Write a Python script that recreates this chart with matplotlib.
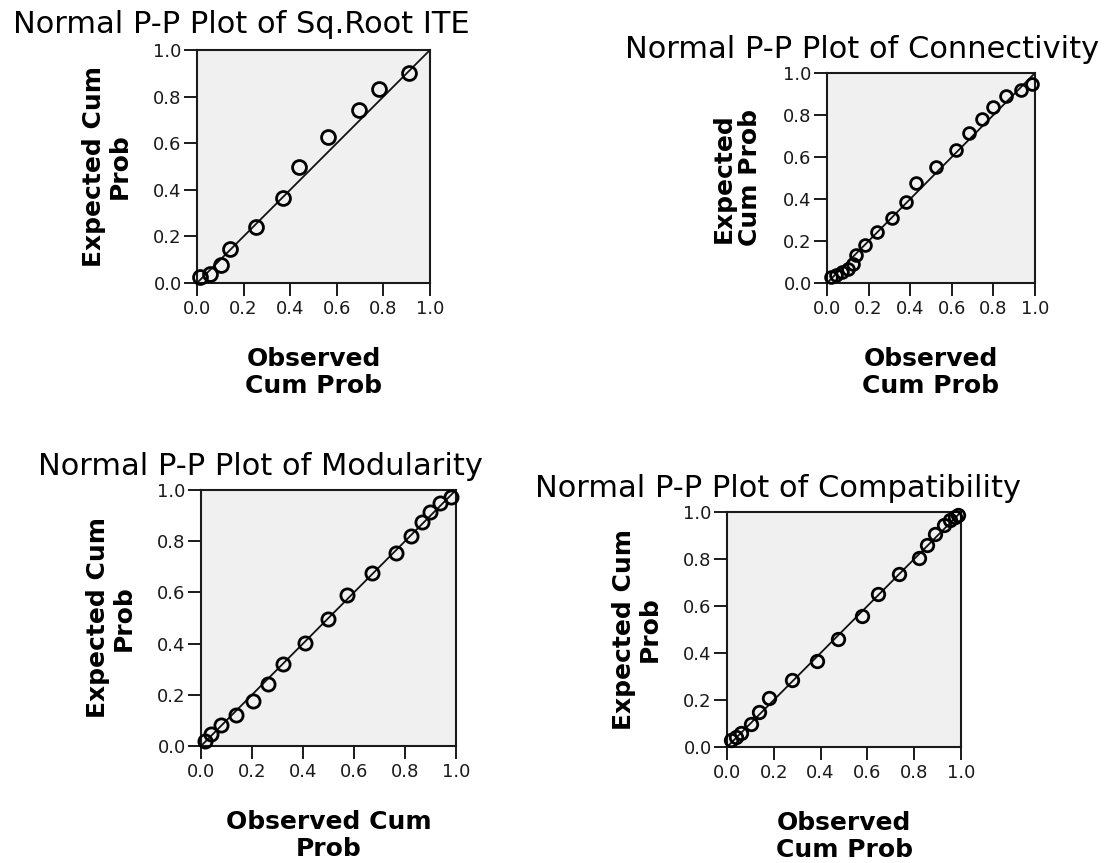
import numpy as np
import matplotlib
matplotlib.use('Agg')
import matplotlib.pyplot as plt

plt.rcParams.update({
  "font.family": "DejaVu Sans",
})

W, H = 1107, 863

# observed / expected cumulative probabilities
ite_obs = [0.012, 0.055, 0.105, 0.141, 0.253, 0.367, 0.437, 0.563, 0.695, 0.781, 0.911]
ite_exp = [0.026, 0.039, 0.076, 0.146, 0.239, 0.364, 0.497, 0.627, 0.743, 0.834, 0.903]

con_obs = [0.020, 0.044, 0.073, 0.100, 0.124, 0.140, 0.185, 0.240, 0.314, 0.381,
           0.429, 0.525, 0.622, 0.681, 0.747, 0.798, 0.862, 0.935, 0.986]
con_exp = [0.029, 0.040, 0.053, 0.068, 0.092, 0.132, 0.180, 0.244, 0.311, 0.387,
           0.475, 0.554, 0.634, 0.713, 0.780, 0.836, 0.889, 0.920, 0.947]

mod_obs = [0.016, 0.040, 0.078, 0.138, 0.203, 0.262, 0.321, 0.406, 0.498, 0.574,
           0.672, 0.765, 0.823, 0.865, 0.898, 0.937, 0.980]
mod_exp = [0.018, 0.045, 0.083, 0.123, 0.176, 0.244, 0.322, 0.404, 0.498, 0.589,
           0.677, 0.755, 0.820, 0.874, 0.913, 0.950, 0.971]

com_obs = [0.019, 0.040, 0.061, 0.104, 0.137, 0.179, 0.276, 0.383, 0.476, 0.576,
           0.644, 0.736, 0.819, 0.854, 0.890, 0.929, 0.954, 0.973, 0.986]
com_exp = [0.028, 0.042, 0.059, 0.099, 0.149, 0.208, 0.286, 0.368, 0.458, 0.557,
           0.649, 0.736, 0.805, 0.861, 0.908, 0.943, 0.965, 0.979, 0.986]

ref_line = [0.0, 1.0]
ticks = [0.0, 0.2, 0.4, 0.6, 0.8, 1.0]
tick_labels = ['0.0', '0.2', '0.4', '0.6', '0.8', '1.0']


def pp_panel(fig, box, obs, exp, title, title_at, xlab, ylab, ms):
    l, t, r, b = box
    ax = fig.add_axes([l/W, 1-b/H, (r-l)/W, (b-t)/H])
    ax.set_facecolor('#f0f0f0')
    ax.plot(ref_line, ref_line, color='#111111', lw=1.3, zorder=2)
    ax.plot(obs, exp, 'o', mfc='none', mec='black', ms=ms, mew=2.0,
            zorder=3, clip_on=False)
    ax.set_xlim(0, 1)
    ax.set_ylim(0, 1)
    ax.set_xticks(ticks)
    ax.set_yticks(ticks)
    ax.set_xticklabels(tick_labels)
    ax.set_yticklabels(tick_labels)
    ax.tick_params(length=9.5, width=1.4, color='#1a1a1a', labelsize=13,
                   labelcolor='#1a1a1a')
    ax.tick_params(axis='x', pad=3)
    ax.tick_params(axis='y', pad=1.5)
    for s in ax.spines.values():
        s.set_color('#1a1a1a')
        s.set_linewidth(1.5)
    ax.set_xlabel(xlab, fontsize=18, fontweight='bold', linespacing=1.15)
    ax.xaxis.set_label_coords(0.5, -64/(b-t))
    ax.set_ylabel(ylab, fontsize=18, fontweight='bold', linespacing=1.1)
    ax.yaxis.set_label_coords(-65/(r-l), 0.5)
    fig.text(title_at[0]/W, 1-title_at[1]/H, title, fontsize=22,
             ha='left', va='baseline')
    return ax


fig = plt.figure(figsize=(W/100, H/100), dpi=100)

pp_panel(fig, (197, 50, 430, 283), ite_obs, ite_exp,
         'Normal P-P Plot of Sq.Root ITE', (12.7, 33.3),
         'Observed\nCum Prob', 'Expected Cum\nProb', 10)
pp_panel(fig, (827, 73, 1035, 283), con_obs, con_exp,
         'Normal P-P Plot of Connectivity', (625, 58.3),
         'Observed\nCum Prob', 'Expected\nCum Prob', 8.5)
pp_panel(fig, (201, 490, 456, 746), mod_obs, mod_exp,
         'Normal P-P Plot of Modularity', (38.3, 475),
         'Observed Cum\nProb', 'Expected Cum\nProb', 9.5)
pp_panel(fig, (727, 512, 961, 747), com_obs, com_exp,
         'Normal P-P Plot of Compatibility', (535, 497),
         'Observed\nCum Prob', 'Expected Cum\nProb', 9)

plt.savefig('out.png', dpi=100)
